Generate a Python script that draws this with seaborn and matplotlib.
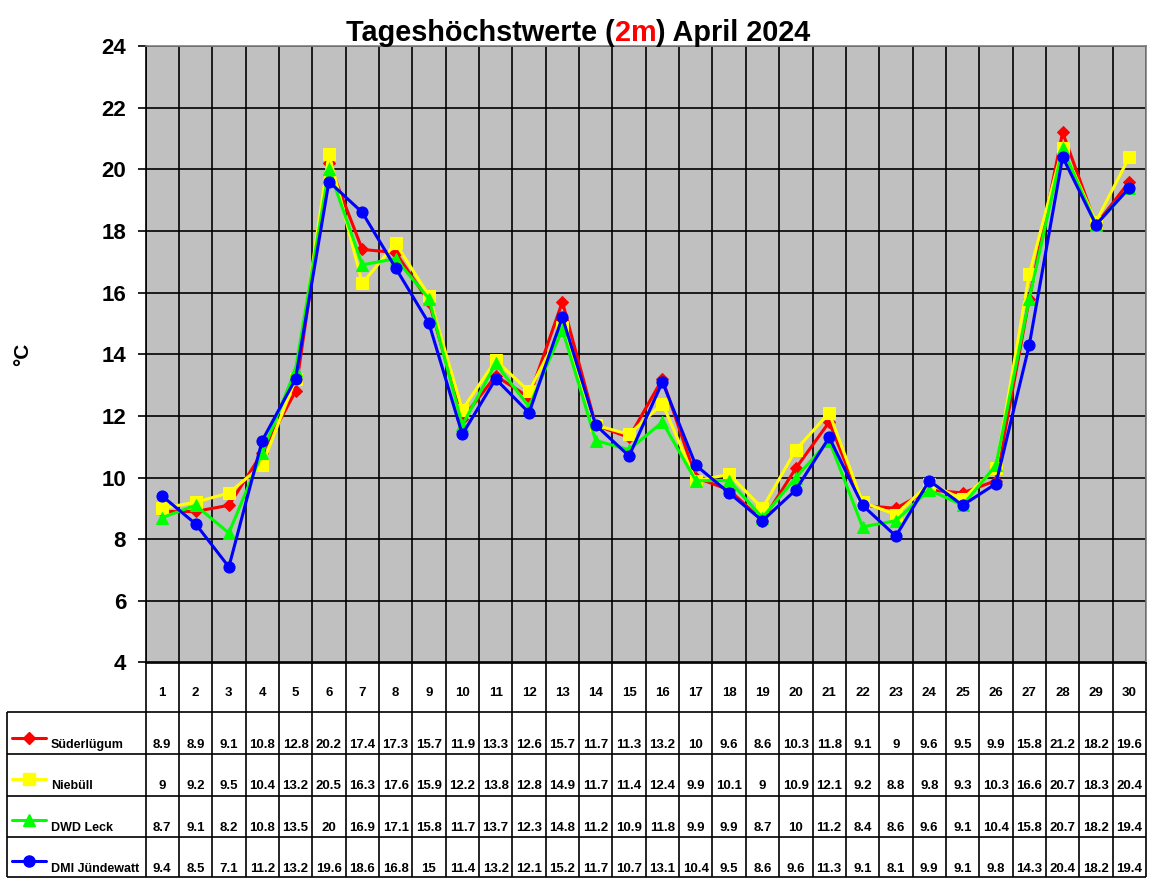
import numpy as np
import pandas as pd
import matplotlib
matplotlib.use('Agg')
import matplotlib.pyplot as plt
import matplotlib.transforms as mtransforms
import seaborn as sns

# Tageshoechstwerte April 2024 (Werte aus der Tabelle)
days = list(range(1, 31))
stations = ['Süderlügum', 'Niebüll', 'DWD Leck', 'DMI Jündewatt']
suederluegum = [8.9, 8.9, 9.1, 10.8, 12.8, 20.2, 17.4, 17.3, 15.7, 11.9, 13.3, 12.6, 15.7, 11.7, 11.3,
                13.2, 10, 9.6, 8.6, 10.3, 11.8, 9.1, 9, 9.6, 9.5, 9.9, 15.8, 21.2, 18.2, 19.6]
niebuell = [9, 9.2, 9.5, 10.4, 13.2, 20.5, 16.3, 17.6, 15.9, 12.2, 13.8, 12.8, 14.9, 11.7, 11.4,
            12.4, 9.9, 10.1, 9, 10.9, 12.1, 9.2, 8.8, 9.8, 9.3, 10.3, 16.6, 20.7, 18.3, 20.4]
leck = [8.7, 9.1, 8.2, 10.8, 13.5, 20, 16.9, 17.1, 15.8, 11.7, 13.7, 12.3, 14.8, 11.2, 10.9,
        11.8, 9.9, 9.9, 8.7, 10, 11.2, 8.4, 8.6, 9.6, 9.1, 10.4, 15.8, 20.7, 18.2, 19.4]
juendewatt = [9.4, 8.5, 7.1, 11.2, 13.2, 19.6, 18.6, 16.8, 15, 11.4, 13.2, 12.1, 15.2, 11.7, 10.7,
              13.1, 10.4, 9.5, 8.6, 9.6, 11.3, 9.1, 8.1, 9.9, 9.1, 9.8, 14.3, 20.4, 18.2, 19.4]
series = [suederluegum, niebuell, leck, juendewatt]
colors = ['#FF0000', '#FFFF00', '#00FF00', '#0000FF']
markers = ['D', 's', '^', 'o']
msizes = [6.5, 8, 8.5, 8]

df = pd.DataFrame({'Tag': days})
for name, vals in zip(stations, series):
    df[name] = vals

sns.set_style('white')
plt.rcParams['font.family'] = ['Liberation Sans', 'DejaVu Sans']
plt.rcParams['text.color'] = 'black'
plt.rcParams['ytick.color'] = 'black'
plt.rcParams['axes.labelcolor'] = 'black'

W, H = 1152, 882
fig = plt.figure(figsize=(W / 100, H / 100), dpi=100)

# Diagrammbereich in Pixeln
L, R, T, B = 145.5, 1146, 46, 662.5
ax = fig.add_axes([L / W, 1 - B / H, (R - L) / W, (B - T) / H])
ax.set_facecolor('#C0C0C0')

for i, name in enumerate(stations):
    sns.lineplot(data=df, x='Tag', y=name, ax=ax, color=colors[i], marker=markers[i],
                 markersize=msizes[i], markeredgecolor=colors[i], linewidth=2.2,
                 zorder=3 + i, clip_on=False)

ax.set_xlim(0.5, 30.5)
ax.set_ylim(4, 24)
ax.set_yticks(np.arange(4, 25, 2))
ax.set_xticks(days)
ax.set_xticks(np.arange(0.5, 31, 1), minor=True)
ax.grid(True, axis='y', which='major', color='black', linewidth=1.2)
ax.grid(True, axis='x', which='minor', color='black', linewidth=1.2)
ax.grid(False, axis='x', which='major')
ax.tick_params(axis='x', which='both', length=0, labelbottom=False)
ax.tick_params(axis='y', direction='out', length=6, width=1.2, pad=8, left=True,
               labelsize=16, colors='black')
for lab in ax.get_yticklabels():
    lab.set_fontweight('bold')
ax.set_xlabel('')
ax.set_ylabel('')
ax.spines['left'].set_color('black')
ax.spines['bottom'].set_color('black')
ax.spines['top'].set_color('#808080')
ax.spines['right'].set_color('#808080')
for s in ax.spines.values():
    s.set_linewidth(1.2)

fig.text(23 / W, 1 - 354 / H, '°C', rotation=90, ha='center', va='center',
         fontsize=15, fontweight='bold')

# Titel mit rotem "2m"
t1 = fig.text(346 / W, 1 - 41 / H, 'Tageshöchstwerte (', fontsize=20.8, fontweight='bold',
              ha='left', va='baseline')
t2 = ax.annotate('2m', xy=(1, 0), xycoords=t1, fontsize=20.8, fontweight='bold',
                 color='#FF0000', ha='left', va='bottom', annotation_clip=False)
t3 = ax.annotate(') April 2024', xy=(1, 0), xycoords=t2, fontsize=20.8, fontweight='bold',
                 ha='left', va='bottom', annotation_clip=False)

# Datentabelle unter dem Diagramm
TL, TB = 6.5, 877
tax = fig.add_axes([TL / W, 1 - TB / H, (R - TL) / W, (TB - B) / H])
tax.set_xlim(TL, R)
tax.set_ylim(TB, B)
tax.axis('off')
blend = mtransforms.blended_transform_factory(ax.transData, tax.transData)

row_lines = [712, 754, 796, 837, 877]
tax.vlines(np.arange(0.5, 31, 1), B, TB, colors='black', linewidth=1.2,
           transform=blend, clip_on=False)
tax.vlines([TL], row_lines[0], TB, colors='black', linewidth=1.2, clip_on=False)
tax.hlines(row_lines, TL, R, colors='black', linewidth=1.2, clip_on=False)

for d in days:
    tax.text(d, 693, str(d), transform=blend, ha='center', va='center',
             fontsize=9.5, fontweight='bold')

text_y = [745, 786, 828, 869]
leg_y = [738, 779, 820, 861]
for i, (name, vals) in enumerate(zip(stations, series)):
    tax.plot([12, 46], [leg_y[i], leg_y[i]], color=colors[i], linewidth=2.2, clip_on=False)
    tax.plot([29], [leg_y[i]], marker=markers[i], markersize=msizes[i], color=colors[i],
             clip_on=False)
    tax.text(51, text_y[i], name, ha='left', va='center', fontsize=9, fontweight='bold')
    for d, v in zip(days, vals):
        tax.text(d, text_y[i], f'{v:g}', transform=blend, ha='center', va='center',
                 fontsize=9.5, fontweight='bold')

fig.savefig('out.png', dpi=100)
